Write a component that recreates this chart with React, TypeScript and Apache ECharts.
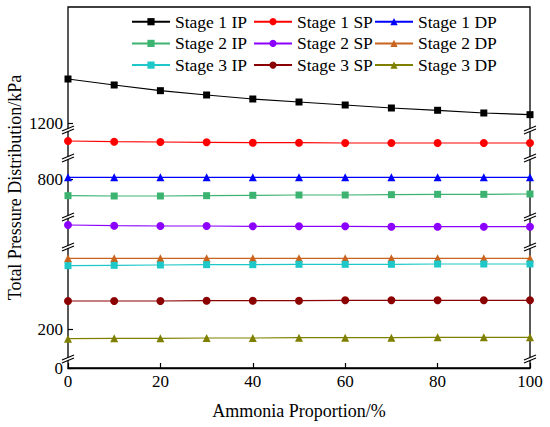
import React, { useEffect, useRef } from 'react';
import * as echarts from 'echarts';

// ---- data ----
const ammoniaProportion = [0, 10, 20, 30, 40, 50, 60, 70, 80, 90, 100];
const stage1IP = [1310.5, 1295.5, 1281.3, 1270.5, 1260.5, 1253.0, 1245.5, 1238.0, 1232.3, 1225.5, 1221.3];
const stage1SP = [1027.5, 1025.8, 1025.0, 1024.2, 1023.3, 1023.3, 1022.5, 1022.5, 1022.5, 1022.5, 1022.5];
const stage1DP = [804.3, 804.3, 804.3, 804.3, 804.3, 804.3, 804.3, 804.3, 804.3, 804.3, 804.3];
const stage2IP = [758.3, 757.5, 757.5, 758.3, 759.2, 760.0, 760.0, 760.8, 761.7, 761.7, 762.5];
const stage2SP = [570.0, 568.3, 567.5, 567.5, 566.7, 566.7, 566.7, 565.8, 565.8, 565.8, 565.8];
const stage2DP = [376.7, 376.7, 376.7, 376.7, 376.7, 376.7, 376.7, 376.7, 376.7, 376.7, 376.7];
const stage3IP = [358.3, 359.2, 360.0, 360.8, 360.8, 361.7, 361.7, 361.7, 362.5, 362.5, 362.5];
const stage3SP = [270.0, 270.0, 270.0, 270.8, 270.8, 270.8, 271.7, 271.7, 271.7, 271.7, 271.7];
const stage3DP = [175.8, 176.7, 176.7, 177.5, 177.5, 178.3, 178.3, 178.3, 179.2, 179.2, 179.2];
const xTickLabels = [0, 20, 40, 60, 80, 100];
const yTickLabels = [0, 200, 800, 1200];
// visible value range of each piece of the broken y axis (top piece first)
const segmentRanges: [number, number][] = [
  [1188, 1490.5],
  [990, 1050],
  [710, 847.5],
  [520, 585],
  [130, 400],
  [0, 17.5],
];

// ---- layout ----
const W = 550;
const H = 427;
const PLOT_LEFT = 68;
const PLOT_RIGHT = 530;
const PLOT_TOP = 7;
const PLOT_BOTTOM = 368;
const segmentPixelTops = [7, 132, 160, 219, 249, 361];
const segmentPixelBottoms = [128, 156, 215, 245, 357, 368];
const FONT = "'Liberation Serif', 'Times New Roman', serif";

const seriesDefs = [
  { name: 'Stage 1 IP', data: stage1IP, color: '#000000', symbol: 'rect', seg: 0 },
  { name: 'Stage 1 SP', data: stage1SP, color: '#ff0000', symbol: 'circle', seg: 1 },
  { name: 'Stage 1 DP', data: stage1DP, color: '#0000ff', symbol: 'triangle', seg: 2 },
  { name: 'Stage 2 IP', data: stage2IP, color: '#3cb371', symbol: 'rect', seg: 2 },
  { name: 'Stage 2 SP', data: stage2SP, color: '#8c00ff', symbol: 'circle', seg: 3 },
  { name: 'Stage 2 DP', data: stage2DP, color: '#c8641e', symbol: 'triangle', seg: 4 },
  { name: 'Stage 3 IP', data: stage3IP, color: '#1ec8c8', symbol: 'rect', seg: 4 },
  { name: 'Stage 3 SP', data: stage3SP, color: '#8b0000', symbol: 'circle', seg: 4 },
  { name: 'Stage 3 DP', data: stage3DP, color: '#808000', symbol: 'triangle', seg: 4 },
];

const legendColumns = [
  ['Stage 1 IP', 'Stage 2 IP', 'Stage 3 IP'],
  ['Stage 1 SP', 'Stage 2 SP', 'Stage 3 SP'],
  ['Stage 1 DP', 'Stage 2 DP', 'Stage 3 DP'],
];
const legendLefts = [131, 253, 374];

function breakMark(x: number, y: number) {
  return {
    type: 'group',
    x,
    y,
    z: 100,
    children: [
      {
        type: 'polygon',
        shape: { points: [[-3, 2.5], [3, 0.0], [3, -2.5], [-3, 0.0]] },
        style: { fill: '#ffffff' },
      },
      {
        type: 'line',
        shape: { x1: -6, y1: 1.0, x2: 6, y2: -4.0 },
        style: { stroke: '#000', lineWidth: 1.2 },
      },
      {
        type: 'line',
        shape: { x1: -6, y1: 4.0, x2: 6, y2: -1.0 },
        style: { stroke: '#000', lineWidth: 1.2 },
      },
    ],
  };
}

const plainNumber = (v: number) => String(v);

export default function App() {
  const ref = useRef<HTMLDivElement>(null);

  useEffect(() => {
    if (!ref.current) return;
    const chart = echarts.init(ref.current, null, { renderer: 'svg' });

    const grids: any[] = [
      {
        left: PLOT_LEFT,
        top: PLOT_TOP,
        width: PLOT_RIGHT - PLOT_LEFT,
        height: PLOT_BOTTOM - PLOT_TOP,
        show: true,
        borderColor: '#000',
        borderWidth: 1.3,
        backgroundColor: 'transparent',
        outerBoundsMode: 'none',
      },
    ];
    const xAxes: any[] = [
      {
        gridIndex: 0,
        type: 'value',
        min: 0,
        max: 100,
        interval: 20,
        name: 'Ammonia Proportion/%',
        nameLocation: 'middle',
        nameGap: 34,
        nameTextStyle: { color: '#000', fontSize: 18, fontFamily: FONT },
        axisLine: { show: true, lineStyle: { color: '#000', width: 1.3 } },
        axisTick: { show: true, inside: true, length: 5, lineStyle: { color: '#000', width: 1.2 } },
        axisLabel: {
          color: '#000',
          fontSize: 17,
          fontFamily: FONT,
          margin: 5,
          formatter: plainNumber,
          customValues: xTickLabels,
        },
        splitLine: { show: false },
      },
    ];
    const yAxes: any[] = [
      {
        gridIndex: 0,
        type: 'value',
        min: 0,
        max: 1,
        name: 'Total Pressure Distribution/kPa',
        nameLocation: 'middle',
        nameGap: 44,
        nameRotate: 90,
        nameTextStyle: { color: '#000', fontSize: 18, fontFamily: FONT },
        axisLine: { show: false },
        axisTick: { show: false },
        axisLabel: { show: false },
        splitLine: { show: false },
      },
    ];

    segmentRanges.forEach(([mn, mx], i) => {
      const top = segmentPixelTops[i];
      const bottom = segmentPixelBottoms[i];
      grids.push({
        left: PLOT_LEFT,
        top,
        width: PLOT_RIGHT - PLOT_LEFT,
        height: bottom - top,
        show: false,
        outerBoundsMode: 'none',
      });
      xAxes.push({
        gridIndex: i + 1,
        type: 'value',
        min: 0,
        max: 100,
        show: false,
      });
      const ticks = yTickLabels.filter((v) => v >= mn && v <= mx);
      yAxes.push({
        gridIndex: i + 1,
        type: 'value',
        min: mn,
        max: mx,
        axisLine: { show: false },
        axisTick: {
          show: ticks.length > 0,
          inside: true,
          length: 5,
          lineStyle: { color: '#000', width: 1.2 },
          customValues: ticks,
        },
        axisLabel: {
          show: ticks.length > 0,
          color: '#000',
          fontSize: 17,
          fontFamily: FONT,
          margin: 5,
          formatter: plainNumber,
          customValues: ticks,
        },
        splitLine: { show: false },
      });
    });

    const series = seriesDefs.map((s) => ({
      name: s.name,
      type: 'line',
      xAxisIndex: s.seg + 1,
      yAxisIndex: s.seg + 1,
      data: ammoniaProportion.map((x, k) => [x, s.data[k]]),
      symbol: s.symbol,
      symbolSize: s.symbol === 'rect' ? 7 : 8,
      showSymbol: true,
      clip: false,
      color: s.color,
      itemStyle: { color: s.color },
      lineStyle: { color: s.color, width: 1.2 },
      emphasis: { disabled: true },
    }));

    const legends = legendColumns.map((names, i) => ({
      data: names,
      orient: 'vertical',
      left: legendLefts[i],
      top: 12.7,
      padding: 0,
      itemWidth: 38,
      itemHeight: 9,
      itemGap: 3.7,
      selectedMode: false,
      textStyle: { color: '#000', fontSize: 17.5, fontFamily: FONT, lineHeight: 18 },
    }));

    const breakYs: number[] = [];
    for (let i = 0; i < segmentPixelTops.length - 1; i++) {
      breakYs.push((segmentPixelBottoms[i] + segmentPixelTops[i + 1]) / 2);
    }
    const graphics: any[] = [];
    breakYs.forEach((y) => {
      graphics.push(breakMark(PLOT_LEFT, y));
      graphics.push(breakMark(PLOT_RIGHT, y));
    });

    chart.setOption({
      animation: false,
      backgroundColor: '#ffffff',
      textStyle: { fontFamily: FONT },
      grid: grids,
      xAxis: xAxes,
      yAxis: yAxes,
      legend: legends,
      series,
      graphic: graphics,
    } as any);

    return () => {
      chart.dispose();
    };
  }, []);

  return (
    <div
      ref={ref}
      style={{ position: 'fixed', left: 0, top: 0, width: W, height: H, background: '#fff' }}
    />
  );
}
